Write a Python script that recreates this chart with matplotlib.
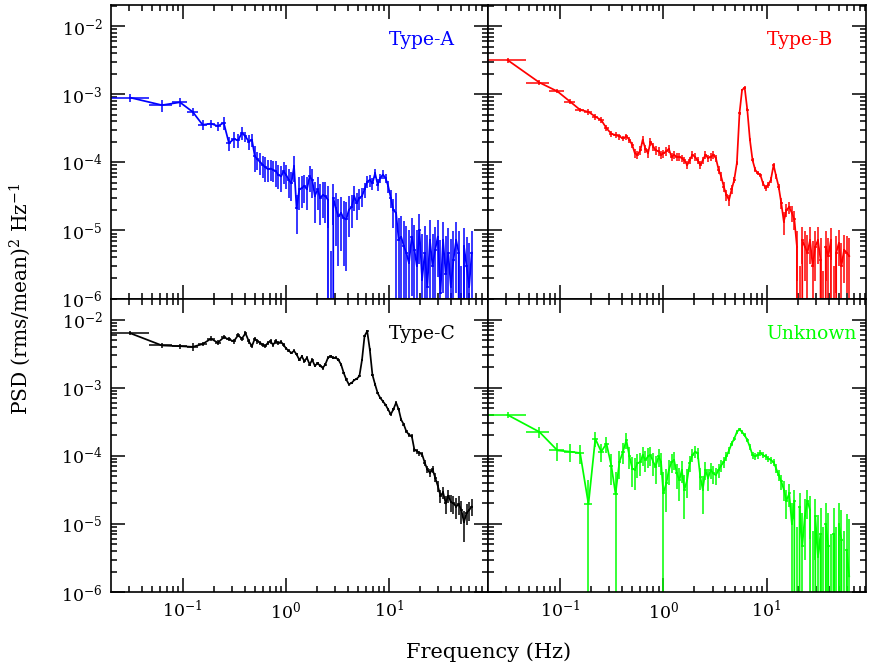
import numpy as np
import matplotlib
matplotlib.use("Agg")
import matplotlib.pyplot as plt

plt.rcParams['font.family'] = 'DejaVu Serif'
plt.rcParams['mathtext.fontset'] = 'dejavuserif'

# frequency bins (Hz): linear 1/32 Hz bins, then log-rebinned
freq = [0.031, 0.063, 0.094, 0.125, 0.156, 0.188, 0.219, 0.25, 0.281, 0.313,
        0.344, 0.375, 0.406, 0.438, 0.469, 0.5, 0.53, 0.56, 0.6, 0.63,
        0.67, 0.71, 0.75, 0.8, 0.84, 0.9, 0.95, 1.0, 1.07, 1.13,
        1.2, 1.27, 1.35, 1.43, 1.51, 1.6, 1.7, 1.8, 1.91, 2.03,
        2.15, 2.28, 2.41, 2.56, 2.71, 2.88, 3.05, 3.23, 3.43, 3.63,
        3.85, 4.08, 4.33, 4.59, 4.86, 5.16, 5.47, 5.79, 6.14, 6.51,
        6.9, 7.32, 7.76, 8.22, 8.72, 9.24, 9.8, 10.4, 11.0, 11.7,
        12.4, 13.1, 13.9, 14.7, 15.6, 16.6, 17.6, 18.6, 19.7, 20.9,
        22.2, 23.5, 24.9, 26.4, 28.0, 29.7, 31.5, 33.4, 35.4, 37.5,
        39.7, 42.1, 44.7, 47.3, 50.2, 53.2, 56.4, 59.8, 63.3]

# PSD values and 1-sigma errors in units of 1e-6 (rms/mean)^2/Hz
psd_a = [890, 690, 760, 550, 355, 370, 340, 380, 190, 220,
         210, 270, 240, 200, 215, 123, 110, 102, 91, 85,
         79, 81, 78, 74, 66, 62, 74, 66, 55, 49,
         87, 21, 40, 42, 45, 40, 62, 55, 32, 40,
         30, 33, 32, 28, -5, 30, 21, 16, 18, 15,
         14.5, 20, 22, 32, 25, 30, 32, 40, 52, 55,
         49, 69, 47, 59, 66, 59, 45, 30, 20, 18,
         7.2, 8.1, 5.9, 4.7, 3.3, 8.1, 5.2, 3.0, 10.2, 1.9,
         4.7, 1.5, 7.2, 3.0, 5.2, 8.1, 1.2, 7.2, 2.3, 4.7,
         1.5, 3.7, 7.2, 4.7, -2, 5.9, 3.0, 1.5, 4.7]
err_a = [110, 140, 115, 70, 60, 50, 50, 85, 42, 60,
         46, 60, 40, 50, 47, 50, 33, 36, 32, 34,
         28, 28, 27, 30, 26, 25, 26, 26, 25, 22,
         35, 12, 20, 21, 20, 20, 25, 25, 19, 20,
         18, 18, 19, 17, 10, 18, 15, 13, 13, 12,
         12, 12, 11, 13, 11, 10, 10, 10, 10, 11,
         10, 10, 9, 9, 10, 9, 9, 9, 9, 17,
         8, 8, 8, 7, 7, 7, 7, 7, 7, 7,
         7, 7, 7, 6, 6, 6, 6, 6, 6, 6,
         6, 6, 6, 5, 5, 5, 5, 5, 5]

psd_b = [3160, 1480, 1100, 776, 589, 550, 468, 417, 316, 263,
         251, 240, 224, 240, 214, 178, 135, 129, 151, 214,
         158, 135, 200, 170, 151, 145, 129, 135, 145, 158,
         120, 129, 120, 120, 115, 107, 91, 107, 129, 120,
         107, 91, 107, 129, 115, 120, 129, 115, 78, 62,
         44, 33, 28, 40, 55, 98, 525, 1150, 1250, 589,
         214, 107, 78, 69, 65, 49, 42, 47, 55, 91,
         62, 44, 25, 13.5, 20, 22, 18, 14.5, 5.8, -1.0,
         7.2, 5.8, 4.7, 7.2, 3.0, 5.8, 7.2, 3.7, -1.5, 5.8,
         4.2, 7.2, -0.5, 4.7, 6.5, 3.0, 5.2, 4.7, 4.2]
err_b = [250, 120, 77, 62, 47, 55, 47, 42, 32, 26,
         25, 24, 22, 24, 21, 18, 20, 19, 23, 30,
         22, 20, 28, 24, 21, 20, 18, 19, 20, 20,
         17, 16, 16, 16, 15, 14, 12, 14, 17, 16,
         14, 12, 14, 17, 15, 16, 17, 15, 11, 9,
         7, 6, 5, 6, 6, 8, 30, 55, 55, 30,
         12, 7, 6, 5, 5, 4.5, 4.5, 4.5, 5, 6,
         5, 4.5, 4.5, 5, 4.5, 4.5, 4.5, 4.5, 4, 4,
         4, 4, 4, 4, 4, 4, 4, 4, 4, 4,
         3.5, 3.5, 3.5, 3.5, 3.5, 3.5, 3.5, 3.5, 3.5]

psd_c = [6310, 4170, 4070, 3980, 4370, 5250, 4570, 5500, 5130, 4790,
         5890, 5250, 6310, 4790, 4070, 5250, 4790, 4570, 4270, 4070,
         4570, 4790, 4270, 4790, 4570, 4680, 4270, 3800, 3470, 3240,
         3470, 3090, 2570, 2880, 2450, 2750, 2190, 2570, 2090, 2290,
         2090, 1950, 2190, 2750, 2880, 2750, 2750, 2570, 2190, 1660,
         1320, 1120, 1170, 1290, 1350, 1480, 2570, 5750, 6760, 3630,
         1550, 1120, 832, 708, 631, 562, 479, 407, 479, 603,
         479, 339, 288, 229, 204, 195, 123, 117, 110, 105,
         79, 63, 56, 63, 48, 36, 26, 29, 20, 26,
         21, 20, 18, 19.5, 16, 10.5, 14.5, 16, 18]
err_c = [380, 290, 330, 550, 300, 420, 370, 385, 360, 340,
         410, 370, 440, 340, 290, 370, 340, 320, 300, 290,
         320, 340, 300, 340, 320, 330, 300, 190, 175, 160,
         175, 155, 130, 145, 120, 140, 110, 130, 105, 115,
         105, 100, 110, 140, 145, 140, 140, 130, 90, 66,
         53, 45, 47, 52, 54, 59, 100, 230, 270, 145,
         62, 45, 33, 28, 25, 23, 22, 20, 24, 30,
         24, 18, 15, 13, 12, 12, 9, 9, 9, 9,
         8, 7, 7, 7, 7, 7, 6, 6, 6, 6,
         6, 6, 6, 6, 6, 5, 5, 5, 5]

psd_u = [398, 224, 120, 115, 110, 19.5, 178, 115, 151, 72,
         27.5, 81, 115, 170, 98, 65, 62, 78, 81, 102,
         87, 98, 102, 81, 69, 98, 81, 28, 40, 62,
         81, 87, 55, 44, 62, 32, 44, 78, 102, 115,
         110, 49, 32, 62, 47, 62, 55, 52, 62, 72,
         81, 98, 120, 151, 178, 224, 245, 224, 200, 170,
         135, 102, 98, 102, 110, 102, 98, 91, 87, 81,
         65, 52, 42, 32, 22, 28, 10, 22, -1, 18,
         4.7, 13, 22, 16, -2, 13, 3.3, 7.2, -1, 10,
         4.7, -3, 7.2, -1, 10, 5.9, -2, 4.2, 1.7]
err_u = [40, 40, 35, 35, 33, 25, 45, 35, 40, 35,
         30, 35, 40, 45, 35, 30, 30, 30, 30, 32,
         30, 32, 32, 30, 30, 30, 28, 30, 25, 25,
         25, 25, 22, 22, 22, 20, 20, 20, 22, 22,
         20, 18, 18, 18, 17, 16, 16, 15, 15, 14,
         14, 14, 14, 14, 14, 14, 14, 13, 13, 12,
         12, 11, 11, 11, 11, 10, 10, 10, 10, 10,
         10, 10, 10, 10, 10, 10, 10, 10, 10, 10,
         10, 10, 10, 10, 10, 10, 10, 10, 10, 10,
         10, 10, 10, 10, 10, 10, 10, 10, 10]

panels = [("Type-A", "#0000ff", psd_a, err_a),
          ("Type-B", "#ff0000", psd_b, err_b),
          ("Type-C", "#000000", psd_c, err_c),
          ("Unknown", "#00ff00", psd_u, err_u)]

f = np.array(freq)
edges = np.concatenate([[f[0] - 1 / 64], (f[1:] + f[:-1]) / 2,
                        [f[-1] + (f[-1] - f[-2]) / 2]])
xlo = f - edges[:-1]
xhi = edges[1:] - f

fig = plt.figure(figsize=(8.72, 6.72), dpi=100)
gs = fig.add_gridspec(2, 2, left=0.1273, right=0.9931, top=0.9926,
                      bottom=0.119, wspace=0, hspace=0)

for k, (name, col, p, e) in enumerate(panels):
    ax = fig.add_subplot(gs[k // 2, k % 2])
    ax.set_xscale('log')
    ax.set_yscale('log')
    y = np.array(p) * 1e-6
    ye = np.array(e) * 1e-6
    ax.errorbar(f, y, xerr=[xlo, xhi], yerr=ye, fmt='-', color=col,
                lw=1.25, elinewidth=1.1, capsize=0)
    ax.set_xlim(0.0202, 92)
    ax.set_ylim(1e-6, 0.0204)
    ax.text(10, 0.0062, name, color=col, fontsize=13.5,
            ha='left', va='center')
    ax.tick_params(which='both', direction='in', top=True, right=True,
                   width=1.1, labelsize=12.5)
    ax.tick_params(which='major', length=10, pad=6)
    ax.tick_params(which='minor', length=4.5)
    for s in ax.spines.values():
        s.set_linewidth(1.2)
    if k % 2 == 1:
        ax.tick_params(labelleft=False)
    if k // 2 == 0:
        ax.tick_params(labelbottom=False)

fig.text(0.023, 0.556, r'PSD (rms/mean)$^2$ Hz$^{-1}$', rotation=90,
         ha='center', va='center', fontsize=14.5)
fig.text(0.560, 0.030, 'Frequency (Hz)', ha='center', va='center',
         fontsize=15)

fig.savefig('out.png', dpi=100)
